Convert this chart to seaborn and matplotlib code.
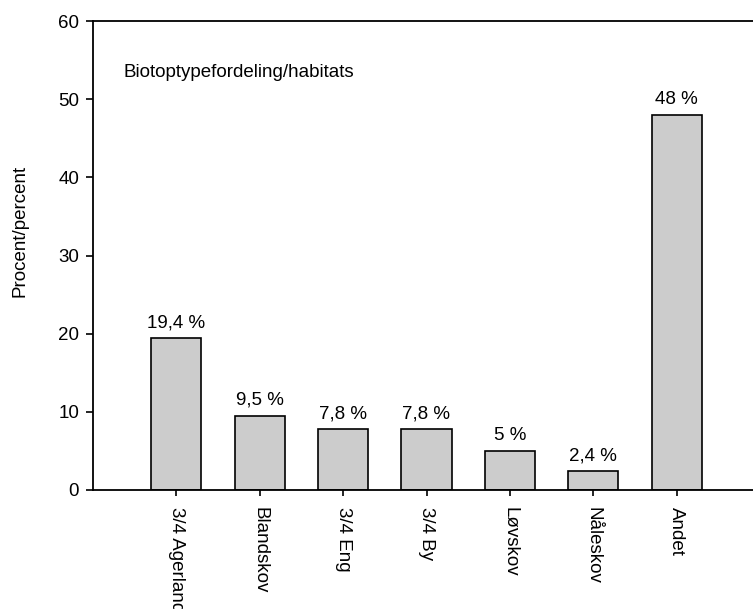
import pandas as pd
import matplotlib
matplotlib.use("Agg")
import matplotlib.pyplot as plt
import seaborn as sns

# Data
categories = ["3/4 Agerland", "Blandskov", "3/4 Eng", "3/4 By", "Løvskov", "Nåleskov", "Andet"]
percent = [19.4, 9.5, 7.8, 7.8, 5.0, 2.4, 48.0]
bar_labels = ["19,4 %", "9,5 %", "7,8 %", "7,8 %", "5 %", "2,4 %", "48 %"]

df = pd.DataFrame({"habitat": categories, "percent": percent})

sns.set_style("ticks")
plt.rcParams["font.family"] = ["Liberation Sans", "DejaVu Sans"]
plt.rcParams["text.color"] = "black"
plt.rcParams["xtick.color"] = "black"
plt.rcParams["ytick.color"] = "black"
plt.rcParams["axes.labelcolor"] = "black"

fig = plt.figure(figsize=(7.53, 6.09), dpi=100)
ax = fig.add_axes([93 / 753, 119 / 609, 667 / 753, 469 / 609])

sns.barplot(data=df, x="habitat", y="percent", order=categories,
            color="#cccccc", edgecolor="black", linewidth=1.2,
            width=0.6, saturation=1, ax=ax)

ax.bar_label(ax.containers[0], labels=bar_labels, padding=5, fontsize=13.5)

ax.set_xlim(-1, 7)
ax.set_ylim(0, 60)
ax.set_yticks([0, 10, 20, 30, 40, 50, 60])
ax.set_xlabel("")
ax.set_ylabel("Procent/percent", fontsize=13.5)
ax.yaxis.set_label_coords(-0.096, 0.552)
ax.tick_params(axis="y", labelsize=13.5, length=5, width=1.2, pad=5,
               direction="out")
ax.tick_params(axis="x", labelsize=13.5, length=4.5, width=1.2, pad=8,
               direction="out", labelrotation=270)
for lbl in ax.get_xticklabels():
    lbl.set_verticalalignment("top")
    lbl.set_horizontalalignment("center")

for side in ["left", "top", "bottom"]:
    ax.spines[side].set_linewidth(1.3)
    ax.spines[side].set_color("black")
ax.spines["right"].set_visible(False)

ax.text(0.045, 0.89, "Biotoptypefordeling/habitats", transform=ax.transAxes,
        fontsize=13.5, va="center", ha="left")

fig.savefig("out.png", dpi=100)
